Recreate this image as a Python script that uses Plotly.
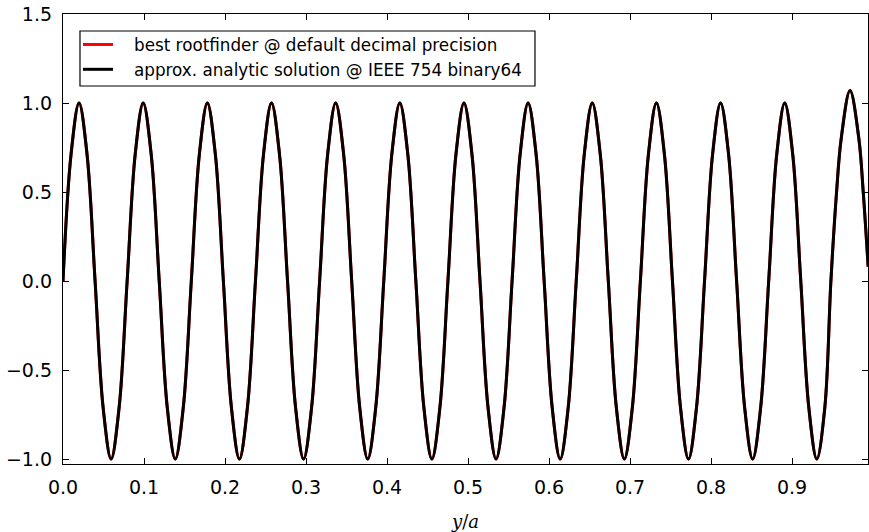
import plotly.graph_objects as go

# Values (y/a positions and amplitude)
x_vals = [
    0.0000, 0.0099, 0.0198, 0.0297, 0.0396, 0.0495, 0.0594, 0.0693,
    0.0792, 0.0891, 0.0990, 0.1089, 0.1188, 0.1287, 0.1386, 0.1485,
    0.1584, 0.1683, 0.1782, 0.1881, 0.1980, 0.2079, 0.2178, 0.2277,
    0.2376, 0.2475, 0.2574, 0.2673, 0.2772, 0.2871, 0.2970, 0.3069,
    0.3168, 0.3267, 0.3366, 0.3465, 0.3564, 0.3663, 0.3762, 0.3861,
    0.3960, 0.4059, 0.4158, 0.4257, 0.4356, 0.4455, 0.4554, 0.4653,
    0.4752, 0.4851, 0.4950, 0.5049, 0.5148, 0.5247, 0.5346, 0.5445,
    0.5544, 0.5643, 0.5742, 0.5841, 0.5940, 0.6039, 0.6138, 0.6237,
    0.6336, 0.6435, 0.6534, 0.6633, 0.6732, 0.6831, 0.6930, 0.7029,
    0.7128, 0.7227, 0.7326, 0.7425, 0.7524, 0.7623, 0.7722, 0.7821,
    0.7920, 0.8019, 0.8118, 0.8217, 0.8316, 0.8415, 0.8514, 0.8613,
    0.8712, 0.8811, 0.8910, 0.9009, 0.9108, 0.9207, 0.9306, 0.9405,
    0.9480, 0.9550, 0.9607, 0.9716, 0.9825, 0.9879, 0.9940,
]

rootfinder_vals = [
    0.00, 0.71, 1.00, 0.71, 0.00, -0.71, -1.00, -0.71,
    0.00, 0.71, 1.00, 0.71, 0.00, -0.71, -1.00, -0.71,
    0.00, 0.71, 1.00, 0.71, 0.00, -0.71, -1.00, -0.71,
    0.00, 0.71, 1.00, 0.71, 0.00, -0.71, -1.00, -0.71,
    0.00, 0.71, 1.00, 0.71, 0.00, -0.71, -1.00, -0.71,
    0.00, 0.71, 1.00, 0.71, 0.00, -0.71, -1.00, -0.71,
    0.00, 0.71, 1.00, 0.71, 0.00, -0.71, -1.00, -0.71,
    0.00, 0.71, 1.00, 0.71, 0.00, -0.71, -1.00, -0.71,
    0.00, 0.71, 1.00, 0.71, 0.00, -0.71, -1.00, -0.71,
    0.00, 0.71, 1.00, 0.71, 0.00, -0.71, -1.00, -0.71,
    0.00, 0.71, 1.00, 0.71, 0.00, -0.71, -1.00, -0.71,
    0.00, 0.71, 1.00, 0.71, 0.00, -0.71, -1.00, -0.71,
    0.00, 0.50, 0.80, 1.07, 0.80, 0.50, 0.08,
]

analytic_vals = list(rootfinder_vals)

x_ticks = [0.0, 0.1, 0.2, 0.3, 0.4, 0.5, 0.6, 0.7, 0.8, 0.9]
x_tick_labels = ["0.0", "0.1", "0.2", "0.3", "0.4", "0.5", "0.6", "0.7", "0.8", "0.9"]
y_ticks = [-1.0, -0.5, 0.0, 0.5, 1.0, 1.5]
y_tick_labels = ["\u22121.0", "\u22120.5", "0.0", "0.5", "1.0", "1.5"]

pad = "\u00a0\u00a0\u00a0"
series_names = [
    pad + "best rootfinder @ default decimal precision",
    pad + "approx. analytic solution @ IEEE 754 binary64",
]

fig = go.Figure()
fig.add_trace(go.Scatter(
    x=x_vals, y=rootfinder_vals, mode="lines", name=series_names[0],
    line=dict(color="#ff0000", width=3, shape="spline"),
))
fig.add_trace(go.Scatter(
    x=x_vals, y=analytic_vals, mode="lines", name=series_names[1],
    line=dict(color="#000000", width=3, shape="spline"),
))

axis_common = dict(
    showline=True, linecolor="black", linewidth=1.3, mirror="allticks",
    ticks="inside", ticklen=6, tickwidth=1.1, tickcolor="black",
    showgrid=False, zeroline=False, automargin=False,
    ticklabeloverflow="allow",
    tickfont=dict(family="DejaVu Sans", size=19, color="black"),
)

# legend frame (matplotlib-style box)
fig.add_shape(
    type="rect", xref="paper", yref="paper",
    x0=0.0211, x1=0.5863, y0=0.840, y1=0.9622,
    line=dict(color="black", width=1.2), fillcolor="white", layer="above",
)

fig.update_layout(
    width=869, height=532,
    margin=dict(l=63, r=1, t=14, b=68),
    paper_bgcolor="white", plot_bgcolor="white",
    font=dict(family="DejaVu Sans", color="black"),
    xaxis=dict(
        range=[0, 0.9938], tickvals=x_ticks, ticktext=x_tick_labels,
        ticklabelstandoff=6,
        title=dict(text="<i>y</i>/<i>a</i>", font=dict(family="DejaVu Serif", size=18),
                   standoff=22),
        **axis_common,
    ),
    yaxis=dict(
        range=[-1.028, 1.5], tickvals=y_ticks, ticktext=y_tick_labels,
        ticklabelstandoff=6,
        **axis_common,
    ),
    legend=dict(
        x=0.0186, y=0.971, xanchor="left", yanchor="top",
        borderwidth=0, bgcolor="rgba(0,0,0,0)",
        font=dict(family="DejaVu Sans", size=16.8, color="black"),
        itemwidth=30,
    ),
    showlegend=True,
)

fig.write_html("out.html", config={"displayModeBar": False},
               post_script="document.body.style.margin='0';")
